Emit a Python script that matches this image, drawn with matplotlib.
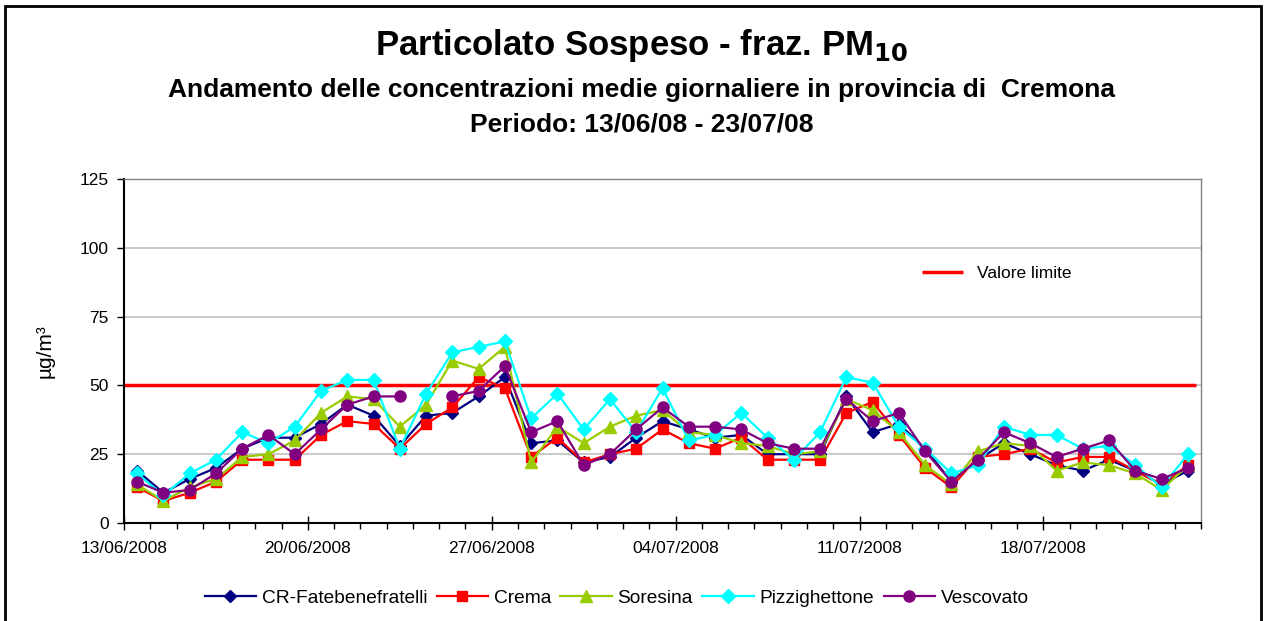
import matplotlib
matplotlib.use("Agg")
import matplotlib.pyplot as plt
import matplotlib.dates as mdates
from matplotlib.patches import Rectangle
import numpy as np
import pandas as pd

plt.rcParams['font.family'] = ['Liberation Sans', 'DejaVu Sans']

# daily means, 13/06/2008 - 23/07/2008 (ug/m3)
days = pd.date_range("2008-06-13", "2008-07-23", freq="D")

cr_fate = [19, 11, 16, 20, 27, 31, 31, 36, 43, 39, 28, 39, 40, 46, 53, 29, 30, 22, 24, 31, 37,
           34, 31, 32, 25, 25, 25, 46, 33, 36, 27, 15, 23, 29, 25, 21, 19, 23, 19, 14, 19]
crema = [13, 8, 11, 15, 23, 23, 23, 32, 37, 36, 27, 36, 42, 53, 49, 24, 31, 22, 25, 27, 34,
         29, 27, 31, 23, 23, 23, 40, 44, 32, 20, 13, 24, 25, 27, 22, 24, 24, 19, 14, 21]
soresina = [14, 8, 13, 16, 24, 25, 30, 40, 46, 45, 35, 43, 59, 56, 64, 22, 35, 29, 35, 39, 41,
            33, 32, 29, 28, 25, 26, 45, 41, 33, 21, 14, 26, 29, 28, 19, 22, 21, 18, 12, 21]
pizzighettone = [18, 10, 18, 23, 33, 29, 35, 48, 52, 52, 27, 47, 62, 64, 66, 38, 47, 34, 45, 33, 49,
                 30, 32, 40, 31, 23, 33, 53, 51, 35, 27, 18, 21, 35, 32, 32, 27, 28, 21, 13, 25]
vescovato = [15, 11, 12, 18, 27, 32, 25, 34, 43, 46, 46, np.nan, 46, 48, 57, 33, 37, 21, 25, 34, 42,
             35, 35, 34, 29, 27, 27, 45, 37, 40, 26, 15, 23, 33, 29, 24, 27, 30, 19, 16, 20]

limit_value = 50

series = [
    ("CR-Fatebenefratelli", cr_fate, "#000080", "D", 6.5),
    ("Crema", crema, "#FF0000", "s", 7),
    ("Soresina", soresina, "#99CC00", "^", 8),
    ("Pizzighettone", pizzighettone, "#00FFFF", "D", 7.5),
    ("Vescovato", vescovato, "#800080", "o", 8),
]

fig = plt.figure(figsize=(12.7, 6.21), dpi=100)
ax = fig.add_axes([124 / 1270, 1 - 523 / 621, (1201 - 124) / 1270, (523 - 179) / 621])

x = days + pd.Timedelta(hours=12)
handles = []
for name, vals, col, mk, ms in series:
    h, = ax.plot(x, vals, color=col, marker=mk, markersize=ms, linewidth=1.6,
                 markeredgecolor=col, label=name, zorder=3)
    handles.append(h)

lim_h = ax.hlines(limit_value, days[0], days[-1] + pd.Timedelta(hours=19), color="#FF0000",
                  linewidth=2.5, zorder=2, label="Valore limite")

ax.set_xlim(days[0], days[-1] + pd.Timedelta(days=1))
ax.set_ylim(0, 125)
ax.set_yticks(range(0, 126, 25))
for yv in range(25, 126, 25):
    ax.axhline(yv, color="#C0C0C0", linewidth=1.2, zorder=1)

major = pd.date_range(days[0], days[-1], freq="7D")
ax.xaxis.set_major_locator(matplotlib.ticker.FixedLocator(mdates.date2num(major)))
ax.xaxis.set_minor_locator(mdates.DayLocator())
ax.xaxis.set_major_formatter(mdates.DateFormatter("%d/%m/%Y"))

ax.tick_params(axis="x", which="major", direction="inout", length=10, width=1, labelsize=12.5, pad=8)
ax.tick_params(axis="x", which="minor", direction="out", length=4, width=1)
ax.tick_params(axis="y", direction="out", length=5, width=1, labelsize=12.5, pad=6)

for s in ["top", "right"]:
    ax.spines[s].set_color("#808080")
    ax.spines[s].set_linewidth(1)
for s in ["left", "bottom"]:
    ax.spines[s].set_linewidth(1.5)

ax.set_ylabel("µg/m³", fontsize=15, labelpad=18)

ax.legend(handles=[lim_h], loc="center left", bbox_to_anchor=(0.726, 0.725), frameon=False,
          fontsize=12.5, handlelength=2.4, handletextpad=0.8)

fig.legend(handles=handles, loc="center", bbox_to_anchor=(0.4855, 0.037), ncol=5, frameon=False,
           fontsize=13.8, handlelength=2.67, handletextpad=0.3, columnspacing=0.5)

fig.text(0.505, 1 - 45 / 621, "Particolato Sospeso - fraz. PM$_{\\mathbf{10}}$", ha="center", va="center",
         fontsize=25, fontweight="bold")
fig.text(0.505, 1 - 90 / 621, "Andamento delle concentrazioni medie giornaliere in provincia di  Cremona",
         ha="center", va="center", fontsize=19, fontweight="bold")
fig.text(0.505, 1 - 125 / 621, "Periodo: 13/06/08 - 23/07/08", ha="center", va="center",
         fontsize=19, fontweight="bold")

fig.patches.append(Rectangle((5 / 1270, -0.05), (1261 - 5) / 1270, 1.05 - 6 / 621,
                             transform=fig.transFigure, fill=False, edgecolor="black", linewidth=2))

fig.savefig("out.png", dpi=100)
